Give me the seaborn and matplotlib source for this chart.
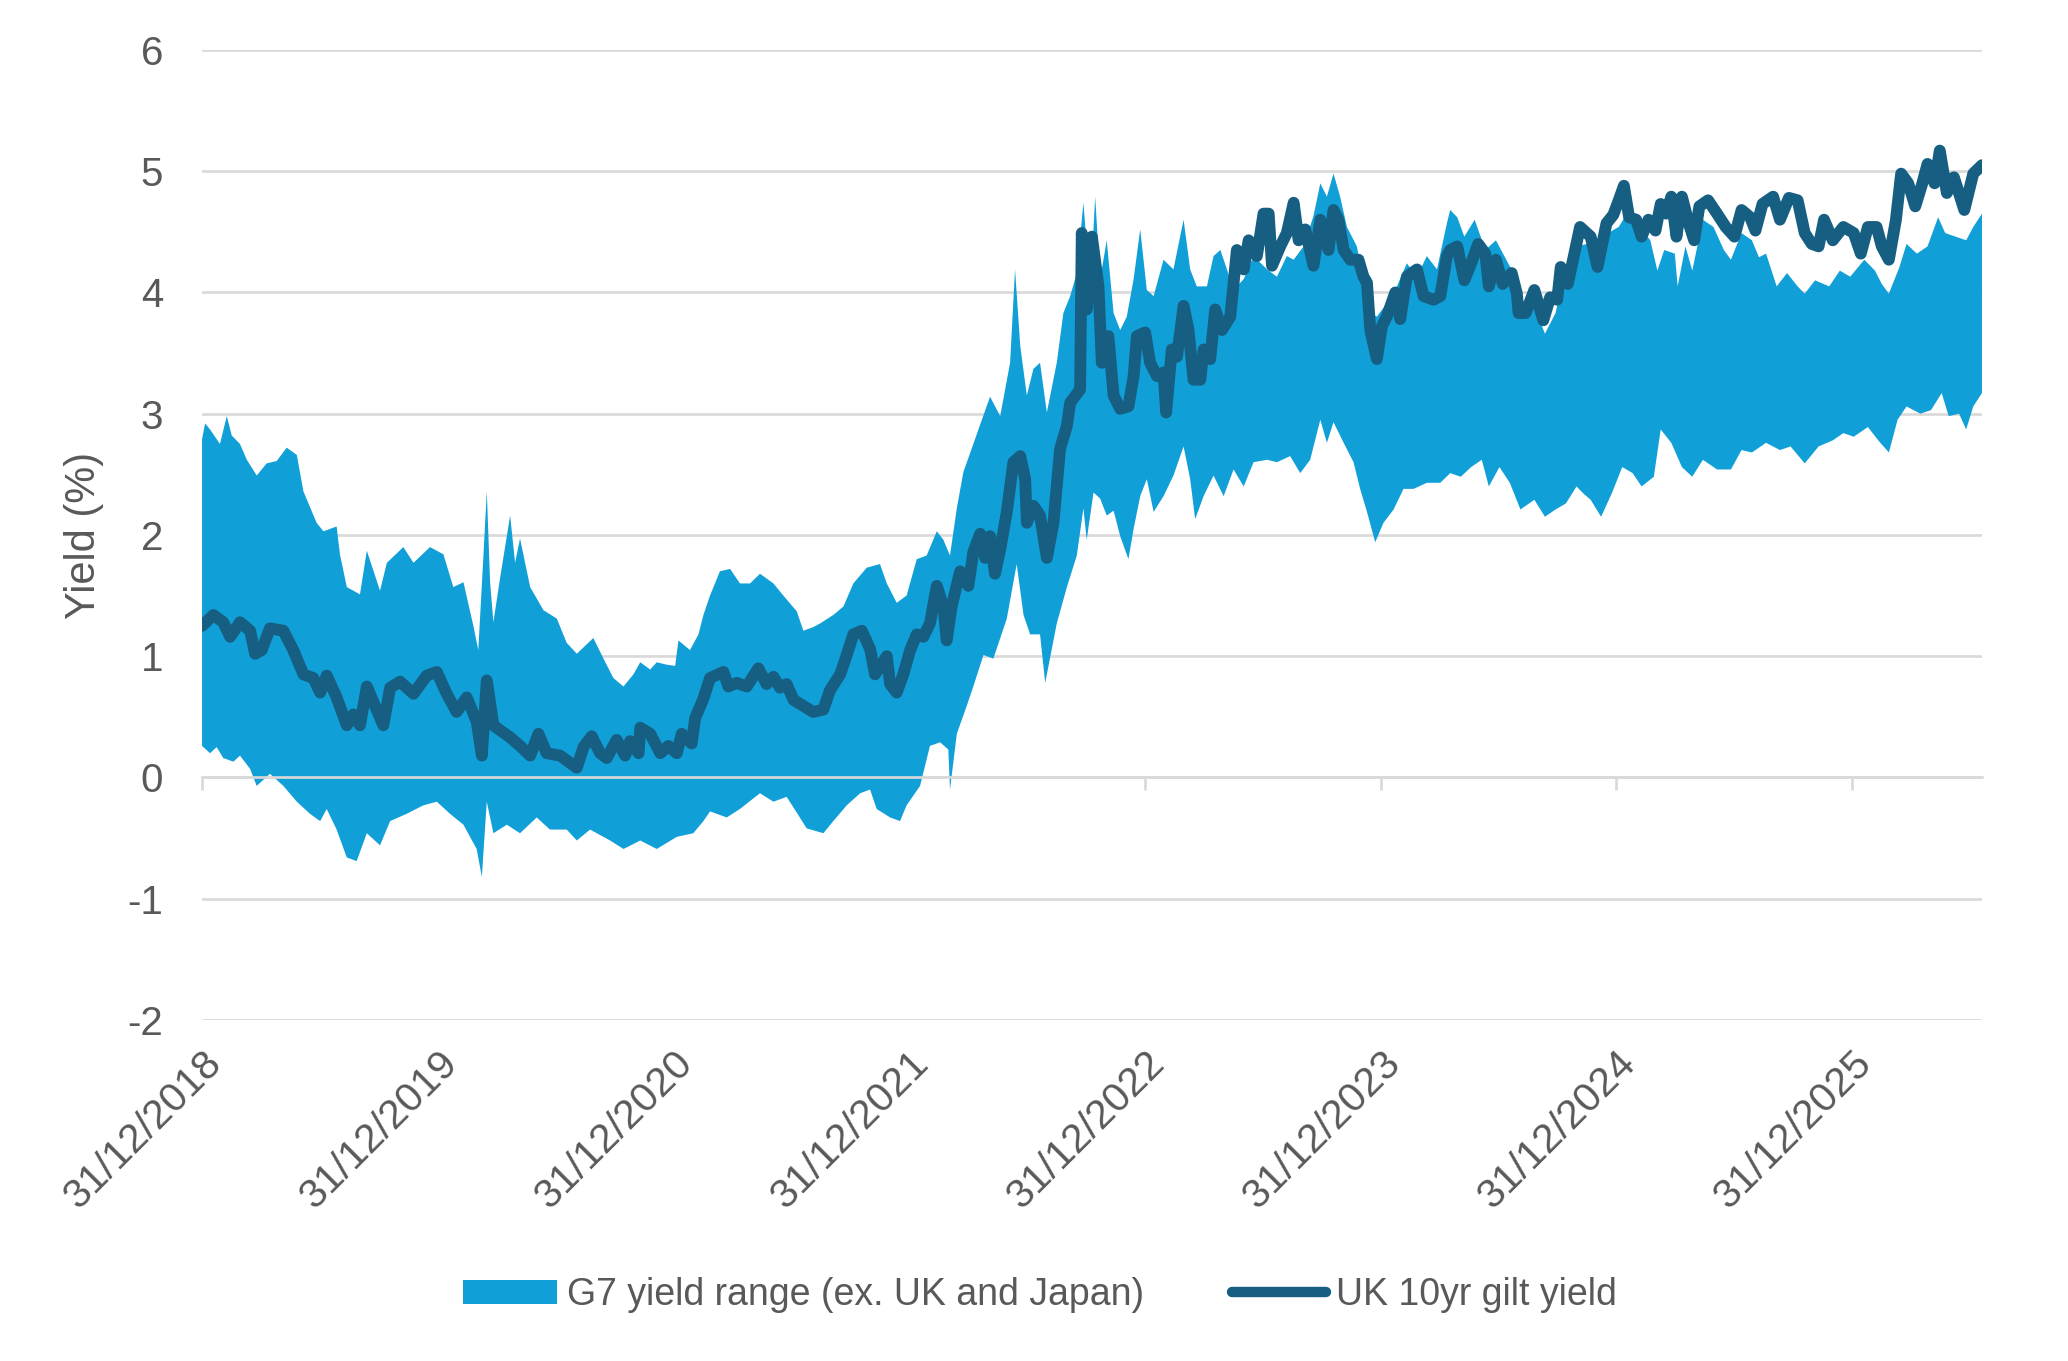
import numpy as np
import seaborn as sns
import matplotlib.pyplot as plt
from matplotlib.patches import Patch
from matplotlib.lines import Line2D

# x positions are years since 31/12/2018
tick_pos = [0, 1, 2, 3, 4, 5, 6, 7]
tick_labels = ["31/12/2018", "31/12/2019", "31/12/2020", "31/12/2021",
               "31/12/2022", "31/12/2023", "31/12/2024", "31/12/2025"]

# UK 10yr gilt yield
uk_t = [0.0, 0.048, 0.090, 0.119, 0.161, 0.204, 0.225, 0.253, 0.288, 0.345,
        0.387, 0.430, 0.472, 0.501, 0.529, 0.571, 0.614, 0.642, 0.670, 0.699,
        0.769, 0.798, 0.840, 0.897, 0.953, 0.996, 1.038, 1.080, 1.123, 1.165,
        1.187, 1.208, 1.236, 1.264, 1.307, 1.349, 1.392, 1.427, 1.462, 1.519,
        1.590, 1.618, 1.653, 1.689, 1.717, 1.759, 1.795, 1.816, 1.852, 1.859,
        1.901, 1.944, 1.978, 2.014, 2.035, 2.077, 2.092, 2.127, 2.155, 2.212,
        2.233, 2.268, 2.311, 2.360, 2.395, 2.424, 2.452, 2.480, 2.509, 2.551,
        2.593, 2.636, 2.664, 2.707, 2.735, 2.763, 2.799, 2.834, 2.855, 2.905,
        2.919, 2.947, 2.975, 3.004, 3.032, 3.060, 3.088, 3.117, 3.145, 3.159,
        3.180, 3.216, 3.251, 3.272, 3.301, 3.322, 3.343, 3.364, 3.386, 3.414,
        3.442, 3.471, 3.492, 3.499, 3.527, 3.555, 3.584, 3.612, 3.640, 3.669,
        3.683, 3.725, 3.732, 3.753, 3.775, 3.803, 3.817, 3.845, 3.867, 3.895,
        3.930, 3.952, 3.966, 4.001, 4.022, 4.051, 4.079, 4.090, 4.114, 4.136,
        4.164, 4.185, 4.206, 4.235, 4.249, 4.277, 4.298, 4.327, 4.362, 4.390,
        4.419, 4.440, 4.475, 4.503, 4.525, 4.539, 4.574, 4.602, 4.631, 4.652,
        4.680, 4.715, 4.744, 4.779, 4.800, 4.821, 4.843, 4.871, 4.906, 4.927,
        4.942, 4.956, 4.984, 5.005, 5.026, 5.062, 5.083, 5.111, 5.154, 5.182,
        5.224, 5.253, 5.281, 5.295, 5.325, 5.355, 5.384, 5.414, 5.444, 5.459,
        5.489, 5.518, 5.556, 5.578, 5.585, 5.615, 5.652, 5.690, 5.719, 5.749,
        5.764, 5.794, 5.816, 5.846, 5.891, 5.920, 5.958, 5.987, 6.010, 6.032,
        6.054, 6.084, 6.107, 6.136, 6.166, 6.188, 6.211, 6.233, 6.255, 6.278,
        6.307, 6.330, 6.352, 6.389, 6.427, 6.464, 6.501, 6.531, 6.568, 6.590,
        6.620, 6.665, 6.694, 6.732, 6.769, 6.799, 6.829, 6.858, 6.881, 6.918,
        6.963, 7.007, 7.037, 7.067, 7.104, 7.126, 7.156, 7.186, 7.208, 7.238,
        7.268, 7.298, 7.320, 7.350, 7.372, 7.402, 7.432, 7.476, 7.514, 7.551]
uk_yield = [1.25, 1.34, 1.28, 1.16, 1.28, 1.21, 1.02, 1.05, 1.23, 1.21,
            1.05, 0.85, 0.82, 0.70, 0.84, 0.66, 0.43, 0.52, 0.43, 0.75,
            0.43, 0.74, 0.79, 0.69, 0.84, 0.87, 0.69, 0.54, 0.66, 0.46,
            0.18, 0.80, 0.43, 0.39, 0.33, 0.26, 0.18, 0.36, 0.20, 0.18,
            0.08, 0.25, 0.34, 0.20, 0.16, 0.31, 0.18, 0.30, 0.20, 0.41,
            0.36, 0.20, 0.26, 0.20, 0.36, 0.28, 0.49, 0.65, 0.82, 0.87,
            0.75, 0.78, 0.75, 0.90, 0.77, 0.83, 0.74, 0.77, 0.64, 0.59,
            0.54, 0.56, 0.72, 0.85, 1.01, 1.18, 1.21, 1.06, 0.85, 1.00,
            0.77, 0.70, 0.85, 1.05, 1.18, 1.16, 1.27, 1.58, 1.41, 1.13,
            1.41, 1.70, 1.58, 1.86, 2.01, 1.81, 1.99, 1.68, 1.88, 2.19,
            2.60, 2.65, 2.46, 2.10, 2.24, 2.16, 1.81, 2.10, 2.71, 2.90,
            3.09, 3.20, 4.49, 3.86, 4.46, 4.05, 3.42, 3.64, 3.15, 3.04,
            3.06, 3.31, 3.64, 3.67, 3.42, 3.31, 3.34, 3.01, 3.53, 3.47,
            3.89, 3.69, 3.28, 3.28, 3.53, 3.45, 3.86, 3.69, 3.80, 4.35,
            4.19, 4.43, 4.30, 4.65, 4.65, 4.22, 4.38, 4.49, 4.74, 4.43,
            4.52, 4.22, 4.60, 4.35, 4.68, 4.60, 4.35, 4.27, 4.27, 4.13,
            4.08, 3.69, 3.45, 3.72, 3.80, 4.00, 3.78, 4.13, 4.19, 3.97,
            3.94, 3.97, 4.30, 4.35, 4.38, 4.10, 4.24, 4.40, 4.32, 4.05,
            4.27, 4.07, 4.16, 3.99, 3.83, 3.83, 4.02, 3.77, 3.96, 3.94,
            4.21, 4.07, 4.27, 4.54, 4.46, 4.21, 4.57, 4.64, 4.76, 4.88,
            4.62, 4.60, 4.46, 4.60, 4.51, 4.73, 4.65, 4.79, 4.46, 4.79,
            4.57, 4.43, 4.71, 4.76, 4.65, 4.54, 4.46, 4.68, 4.62, 4.51,
            4.73, 4.79, 4.60, 4.78, 4.76, 4.49, 4.40, 4.38, 4.60, 4.43,
            4.54, 4.49, 4.32, 4.54, 4.54, 4.38, 4.27, 4.60, 4.98, 4.90,
            4.71, 4.90, 5.06, 4.90, 5.17, 4.82, 4.95, 4.68, 4.98, 5.05]

# G7 range, top edge
hi_t = [0.0, 0.013, 0.034, 0.076, 0.105, 0.126, 0.161, 0.190, 0.232, 0.274,
        0.317, 0.359, 0.402, 0.430, 0.458, 0.486, 0.515, 0.571, 0.585, 0.614,
        0.670, 0.699, 0.755, 0.784, 0.854, 0.897, 0.967, 1.024, 1.066, 1.109,
        1.151, 1.172, 1.194, 1.208, 1.222, 1.236, 1.264, 1.307, 1.328, 1.349,
        1.392, 1.448, 1.505, 1.547, 1.590, 1.660, 1.703, 1.745, 1.788, 1.830,
        1.859, 1.901, 1.929, 1.971, 2.007, 2.021, 2.070, 2.106, 2.127, 2.155,
        2.197, 2.240, 2.282, 2.325, 2.367, 2.424, 2.466, 2.523, 2.551, 2.593,
        2.622, 2.678, 2.721, 2.763, 2.820, 2.876, 2.905, 2.947, 2.989, 3.032,
        3.074, 3.117, 3.145, 3.173, 3.202, 3.230, 3.272, 3.301, 3.343, 3.386,
        3.428, 3.449, 3.471, 3.499, 3.527, 3.555, 3.584, 3.626, 3.654, 3.683,
        3.711, 3.739, 3.768, 3.789, 3.810, 3.838, 3.867, 3.895, 3.923, 3.952,
        3.980, 4.008, 4.037, 4.079, 4.121, 4.164, 4.192, 4.220, 4.263, 4.291,
        4.320, 4.348, 4.376, 4.419, 4.461, 4.518, 4.560, 4.602, 4.631, 4.673,
        4.715, 4.744, 4.772, 4.800, 4.828, 4.857, 4.899, 4.927, 4.956, 4.984,
        5.026, 5.069, 5.111, 5.154, 5.196, 5.239, 5.281, 5.295, 5.325, 5.355,
        5.399, 5.444, 5.489, 5.533, 5.563, 5.593, 5.652, 5.697, 5.742, 5.786,
        5.831, 5.876, 5.920, 5.965, 6.010, 6.054, 6.099, 6.144, 6.174, 6.203,
        6.248, 6.260, 6.293, 6.322, 6.367, 6.412, 6.456, 6.486, 6.531, 6.575,
        6.605, 6.635, 6.680, 6.724, 6.769, 6.799, 6.843, 6.903, 6.948, 6.992,
        7.052, 7.097, 7.126, 7.156, 7.201, 7.231, 7.275, 7.320, 7.365, 7.395,
        7.439, 7.484, 7.514, 7.551]
hi_yield = [2.79, 2.92, 2.87, 2.75, 2.98, 2.82, 2.75, 2.62, 2.49, 2.59,
            2.61, 2.72, 2.66, 2.36, 2.23, 2.10, 2.03, 2.07, 1.84, 1.57,
            1.51, 1.87, 1.54, 1.77, 1.90, 1.77, 1.90, 1.84, 1.57, 1.61,
            1.25, 1.05, 1.84, 2.36, 1.61, 1.28, 1.64, 2.16, 1.77, 1.97,
            1.57, 1.38, 1.31, 1.11, 1.02, 1.15, 0.98, 0.82, 0.75, 0.85,
            0.95, 0.89, 0.95, 0.93, 0.92, 1.13, 1.05, 1.18, 1.34, 1.50,
            1.70, 1.72, 1.60, 1.60, 1.68, 1.60, 1.50, 1.37, 1.21, 1.24,
            1.27, 1.34, 1.41, 1.60, 1.73, 1.76, 1.60, 1.44, 1.50, 1.80,
            1.83, 2.03, 1.96, 1.83, 2.22, 2.52, 2.75, 2.91, 3.14, 2.98,
            3.42, 4.19, 3.56, 3.15, 3.37, 3.42, 3.01, 3.42, 3.83, 3.97,
            4.16, 4.74, 4.02, 4.79, 4.11, 4.43, 3.83, 3.69, 3.80, 4.11,
            4.52, 4.02, 3.97, 4.27, 4.19, 4.60, 4.19, 4.05, 4.05, 4.30,
            4.35, 4.19, 4.02, 4.11, 4.30, 4.19, 4.13, 4.30, 4.27, 4.38,
            4.63, 4.90, 4.79, 4.98, 4.79, 4.54, 4.38, 4.11, 3.83, 3.80,
            3.91, 4.05, 4.24, 4.13, 4.30, 4.19, 4.57, 4.68, 4.62, 4.46,
            4.60, 4.35, 4.43, 4.27, 4.16, 3.94, 3.88, 3.66, 3.83, 4.21,
            4.38, 4.40, 4.29, 4.49, 4.54, 4.68, 4.54, 4.43, 4.18, 4.35,
            4.32, 4.05, 4.38, 4.18, 4.60, 4.54, 4.35, 4.27, 4.49, 4.43,
            4.29, 4.32, 4.05, 4.16, 4.05, 3.99, 4.10, 4.05, 4.18, 4.13,
            4.27, 4.18, 4.07, 3.99, 4.21, 4.40, 4.32, 4.38, 4.62, 4.49,
            4.46, 4.43, 4.54, 4.65]

# G7 range, bottom edge
lo_t = [0.0, 0.034, 0.062, 0.090, 0.133, 0.161, 0.204, 0.232, 0.288, 0.345,
        0.402, 0.458, 0.501, 0.529, 0.571, 0.614, 0.656, 0.699, 0.755, 0.798,
        0.868, 0.939, 0.996, 1.052, 1.109, 1.165, 1.187, 1.208, 1.236, 1.293,
        1.349, 1.420, 1.476, 1.547, 1.590, 1.646, 1.731, 1.788, 1.859, 1.929,
        2.014, 2.084, 2.127, 2.155, 2.226, 2.282, 2.367, 2.424, 2.480, 2.523,
        2.565, 2.636, 2.678, 2.735, 2.792, 2.834, 2.862, 2.919, 2.961, 2.989,
        3.046, 3.088, 3.131, 3.166, 3.173, 3.202, 3.244, 3.272, 3.315, 3.357,
        3.414, 3.456, 3.485, 3.513, 3.555, 3.577, 3.626, 3.669, 3.711, 3.739,
        3.753, 3.782, 3.810, 3.838, 3.867, 3.895, 3.930, 3.952, 3.980, 4.008,
        4.037, 4.079, 4.121, 4.164, 4.192, 4.213, 4.249, 4.291, 4.334, 4.376,
        4.419, 4.461, 4.518, 4.560, 4.616, 4.659, 4.701, 4.744, 4.772, 4.800,
        4.843, 4.885, 4.913, 4.942, 4.977, 5.012, 5.055, 5.097, 5.140, 5.196,
        5.253, 5.295, 5.340, 5.384, 5.429, 5.459, 5.504, 5.548, 5.593, 5.652,
        5.697, 5.742, 5.786, 5.831, 5.861, 5.891, 5.935, 5.980, 6.025, 6.069,
        6.107, 6.159, 6.188, 6.233, 6.278, 6.322, 6.367, 6.427, 6.486, 6.531,
        6.575, 6.635, 6.694, 6.739, 6.799, 6.858, 6.918, 6.963, 7.007, 7.067,
        7.111, 7.156, 7.193, 7.231, 7.290, 7.335, 7.380, 7.410, 7.454, 7.484,
        7.514, 7.551]
lo_yield = [0.26, 0.20, 0.25, 0.16, 0.13, 0.18, 0.07, -0.07, 0.03, -0.07,
            -0.20, -0.30, -0.36, -0.26, -0.43, -0.66, -0.69, -0.46, -0.56, -0.36,
            -0.30, -0.23, -0.20, -0.30, -0.39, -0.59, -0.82, -0.20, -0.46, -0.39,
            -0.46, -0.33, -0.43, -0.43, -0.52, -0.43, -0.52, -0.59, -0.52, -0.59,
            -0.49, -0.46, -0.36, -0.28, -0.33, -0.26, -0.13, -0.20, -0.16, -0.29,
            -0.42, -0.46, -0.36, -0.23, -0.13, -0.10, -0.26, -0.33, -0.36, -0.23,
            -0.07, 0.26, 0.29, 0.23, -0.10, 0.36, 0.59, 0.75, 1.01, 0.98,
            1.31, 1.76, 1.34, 1.18, 1.18, 0.78, 1.27, 1.57, 1.83, 2.22,
            1.96, 2.35, 2.30, 2.16, 2.20, 1.99, 1.80, 2.05, 2.32, 2.46,
            2.19, 2.32, 2.49, 2.73, 2.46, 2.13, 2.32, 2.49, 2.32, 2.54,
            2.40, 2.60, 2.62, 2.60, 2.65, 2.51, 2.62, 2.95, 2.76, 2.93,
            2.76, 2.60, 2.38, 2.19, 1.94, 2.10, 2.21, 2.38, 2.38, 2.43,
            2.43, 2.51, 2.48, 2.56, 2.62, 2.40, 2.56, 2.43, 2.21, 2.29,
            2.15, 2.21, 2.26, 2.40, 2.34, 2.29, 2.15, 2.34, 2.56, 2.51,
            2.40, 2.48, 2.87, 2.76, 2.56, 2.48, 2.62, 2.54, 2.54, 2.70,
            2.68, 2.76, 2.70, 2.73, 2.59, 2.73, 2.78, 2.84, 2.81, 2.89,
            2.78, 2.68, 2.95, 3.06, 3.00, 3.03, 3.17, 2.98, 3.00, 2.87,
            3.06, 3.17]

band_col = "#119fd7"
line_col = "#175f82"
grey_txt = "#595959"
grid_col = "#d9d9d9"

sns.set_theme(style="white")
plt.rcParams["font.family"] = ["Liberation Sans", "DejaVu Sans"]
plt.rcParams["axes.unicode_minus"] = False

fig = plt.figure(figsize=(20.68, 13.61), dpi=100)
ax = fig.add_axes([0.0977, 0.2506, 0.8607, 0.7127])

# band as a polygon: top edge forwards, bottom edge backwards
ax.fill(np.r_[hi_t, lo_t[::-1]], np.r_[hi_yield, lo_yield[::-1]],
        color=band_col, lw=0, zorder=1)

sns.lineplot(x=uk_t, y=uk_yield, ax=ax, color=line_col, lw=8.5,
             estimator=None, sort=False, zorder=3,
             solid_capstyle="round", solid_joinstyle="round")

ax.set_xlim(0, 7.551)
ax.set_ylim(-2, 6)
ax.set_yticks(range(-2, 7))
ax.set_xticks(tick_pos)
ax.set_xticklabels(tick_labels)

ax.set_axisbelow(True)
ax.yaxis.grid(True, color=grid_col, lw=1.9)
ax.xaxis.grid(False)
for s in ["left", "right", "top"]:
    ax.spines[s].set_visible(False)
ax.spines["bottom"].set_position(("data", 0))
ax.spines["bottom"].set_color(grid_col)
ax.spines["bottom"].set_linewidth(1.9)
ax.spines["bottom"].set_zorder(2)

ax.tick_params(axis="y", length=0, pad=28, labelsize=29, labelcolor=grey_txt)
ax.tick_params(axis="x", direction="out", length=9, width=1.9, color=grid_col,
               pad=183, labelsize=29.5, labelcolor=grey_txt, bottom=True)
plt.setp(ax.get_xticklabels(), rotation=45, ha="right", rotation_mode="anchor")

ax.set_xlabel("")
ax.set_ylabel("Yield (%)", fontsize=30, color=grey_txt)
ax.yaxis.set_label_coords(-0.055, 0.5)

handles = [Patch(facecolor=band_col, edgecolor="none"),
           Line2D([], [], color=line_col, lw=7.5, solid_capstyle="round")]
fig.legend(handles, ["G7 yield range (ex. UK and Japan)", "UK 10yr gilt yield"],
           loc="center", bbox_to_anchor=(0.503, 0.0485), ncol=2, frameon=False,
           fontsize=27, labelcolor=grey_txt, handlelength=2.5, handleheight=0.6,
           handletextpad=0.27, columnspacing=2.35)

fig.savefig("out.png", dpi=100)
